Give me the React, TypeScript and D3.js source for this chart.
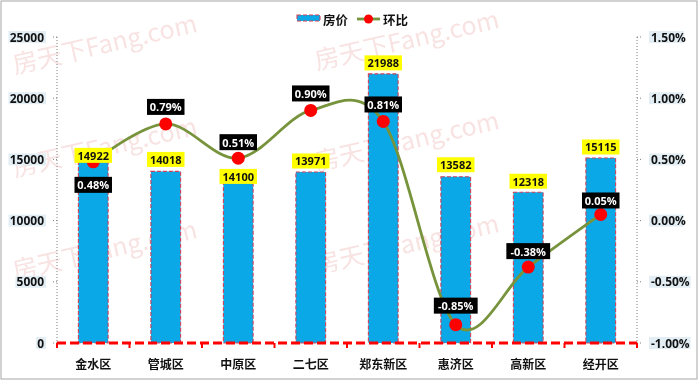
import React from 'react';
import * as d3 from 'd3';

const categories = ['金水区', '管城区', '中原区', '二七区', '郑东新区', '惠济区', '高新区', '经开区'];
const prices = [14922, 14018, 14100, 13971, 21988, 13582, 12318, 15115];
const mom = [0.0048, 0.0079, 0.0051, 0.009, 0.0081, -0.0085, -0.0038, 0.0005];
const leftTicks = [0, 5000, 10000, 15000, 20000, 25000];
const rightTicks = [-0.01, -0.005, 0, 0.005, 0.01, 0.015];
const seriesNames = ['房价', '环比'];

// label placement tweaks (layout, px)
const priceLabelDy = [-5, -12, 6, -11, -11, -12, -11, -11];
const momLabelDy = [23, -17, -16, -17, -17, -19, -16, -14];

const W = 700;
const H = 381;
const PL = 57, PR = 637, PT = 37, PB = 343;
const NUM_FONT = '"Open Sans", "Liberation Sans", sans-serif';
const CJK_FONT = '"Noto Sans CJK SC", "Noto Sans", sans-serif';

const watermarkPos = [
  [15, 74], [317, 70],
  [15, 177], [317, 171],
  [15, 280], [317, 274],
];

export default function App() {
  const x = d3.scaleBand<string>().domain(categories).range([PL, PR]);
  const yL = d3.scaleLinear().domain([0, 25000]).range([PB, PT]);
  const yR = d3.scaleLinear().domain([-0.01, 0.015]).range([PB, PT]);
  const bw = x.bandwidth() * 0.41;
  const cx = (c: string) => (x(c) as number) + x.bandwidth() / 2;

  const line = d3
    .line<number>()
    .x((_, i) => cx(categories[i]))
    .y((d) => yR(d))
    .curve(d3.curveCardinal.tension(0));

  const fmtPct = (v: number) => d3.format('.2%')(v).replace('\u2212', '-');
  const boxW = (s: string) => s.length * 6.3 + 6;

  return (
    <svg
      width={W}
      height={H}
      style={{ position: 'absolute', left: 0, top: 0, display: 'block', background: '#fff' }}
    >
      <rect x={0} y={0} width={W} height={H} fill="#fff" />
      <rect x={1} y={1} width={696} height={378} fill="none" stroke="#a6a6a6" strokeWidth={1} />

      {/* watermark */}
      <g fill="#d04040" opacity={0.15}>
        {watermarkPos.map(([wx, wy], i) => (
          <text
            key={i}
            x={wx}
            y={wy}
            transform={`rotate(-13 ${wx} ${wy})`}
            fontSize={25}
            fontFamily={'"Noto Sans CJK SC", "Liberation Sans", sans-serif'}
          >
            房天下Fang.com
          </text>
        ))}
      </g>

      {/* left axis */}
      <line x1={PL} x2={PL} y1={PT} y2={PB} stroke="#7f7f7f" strokeWidth={1} strokeDasharray="1,2" />
      {leftTicks.map((t) => {
        const s = String(t);
        const w = s.length * 6.9 + 2;
        return (
          <g key={t}>
            <line x1={PL - 4} x2={PL} y1={yL(t)} y2={yL(t)} stroke="#7f7f7f" strokeDasharray="1,2" />
            <rect x={45 - w} y={yL(t) - 6} width={w + 1} height={12} fill="#e2eef4" />
            <text
              x={44}
              y={yL(t)}
              textAnchor="end"
              dominantBaseline="central"
              fontFamily={NUM_FONT}
              fontWeight="bold"
              fontSize={12}
              fill="#111"
            >
              {s}
            </text>
          </g>
        );
      })}

      {/* right axis */}
      <line x1={PR} x2={PR} y1={PT} y2={PB} stroke="#7f7f7f" strokeWidth={1} strokeDasharray="1,2" />
      {rightTicks.map((t) => {
        const s = fmtPct(t);
        const w = s.length * 6.6 + 2;
        return (
          <g key={t}>
            <line x1={PR} x2={PR + 4} y1={yR(t)} y2={yR(t)} stroke="#7f7f7f" strokeDasharray="1,2" />
            <rect x={649} y={yR(t) - 6} width={w} height={12} fill="#e2eef4" />
            <text
              x={651}
              y={yR(t)}
              dominantBaseline="central"
              fontFamily={NUM_FONT}
              fontWeight="bold"
              fontSize={12}
              fill="#111"
            >
              {s}
            </text>
          </g>
        );
      })}

      {/* bars */}
      {categories.map((c, i) => (
        <rect
          key={c}
          x={cx(c) - bw / 2}
          y={yL(prices[i])}
          width={bw}
          height={yL(0) - yL(prices[i])}
          fill="#0aa8e6"
          stroke="#d0405a"
          strokeWidth={1.1}
          strokeDasharray="4,2"
        />
      ))}

      {/* x axis */}
      <line x1={PL} x2={PR} y1={PB} y2={PB} stroke="#ff0000" strokeWidth={3} strokeDasharray="9,4" />
      {d3.range(categories.length + 1).map((i) => {
        const xx = PL + i * x.bandwidth();
        return <line key={i} x1={xx} x2={xx} y1={PB} y2={PB + 5} stroke="#ff0000" strokeWidth={2} />;
      })}
      {categories.map((c) => (
        <text
          key={c}
          x={cx(c)}
          y={363}
          textAnchor="middle"
          dominantBaseline="central"
          fontFamily={CJK_FONT}
          fontWeight="bold"
          fontSize={12}
          fill="#111"
        >
          {c}
        </text>
      ))}

      {/* line */}
      <path d={line(mom) || ''} fill="none" stroke="#77933c" strokeWidth={2.8} />
      {categories.map((c, i) => (
        <circle key={c} cx={cx(c)} cy={yR(mom[i])} r={6.5} fill="#ff0000" />
      ))}

      {/* price labels */}
      {categories.map((c, i) => {
        const s = String(prices[i]);
        const w = boxW(s);
        const yy = yL(prices[i]) + priceLabelDy[i];
        return (
          <g key={c}>
            <rect x={cx(c) - w / 2} y={yy - 7.5} width={w} height={15} fill="#ffff00" />
            <text
              x={cx(c)}
              y={yy}
              textAnchor="middle"
              dominantBaseline="central"
              fontFamily={NUM_FONT}
              fontWeight="bold"
              fontSize={11}
              fill="#111"
            >
              {s}
            </text>
          </g>
        );
      })}

      {/* mom labels */}
      {categories.map((c, i) => {
        const s = fmtPct(mom[i]);
        const w = boxW(s);
        const yy = yR(mom[i]) + momLabelDy[i];
        return (
          <g key={c}>
            <rect x={cx(c) - w / 2} y={yy - 8} width={w} height={16} fill="#000" />
            <text
              x={cx(c)}
              y={yy}
              textAnchor="middle"
              dominantBaseline="central"
              fontFamily={NUM_FONT}
              fontWeight="bold"
              fontSize={11}
              fill="#fff"
            >
              {s}
            </text>
          </g>
        );
      })}

      {/* legend */}
      <rect x={297} y={15} width={23} height={6} fill="#0aa8e6" stroke="#d0405a" strokeWidth={1.1} strokeDasharray="4,2" />
      <text x={323} y={19} dominantBaseline="central" fontFamily={CJK_FONT} fontWeight="bold" fontSize={12.5} fill="#111">
        {seriesNames[0]}
      </text>
      <line x1={357} x2={380} y1={19} y2={19} stroke="#77933c" strokeWidth={2.8} />
      <circle cx={368.5} cy={19} r={4.5} fill="#ff0000" />
      <text x={383} y={19} dominantBaseline="central" fontFamily={CJK_FONT} fontWeight="bold" fontSize={12.5} fill="#111">
        {seriesNames[1]}
      </text>
    </svg>
  );
}
